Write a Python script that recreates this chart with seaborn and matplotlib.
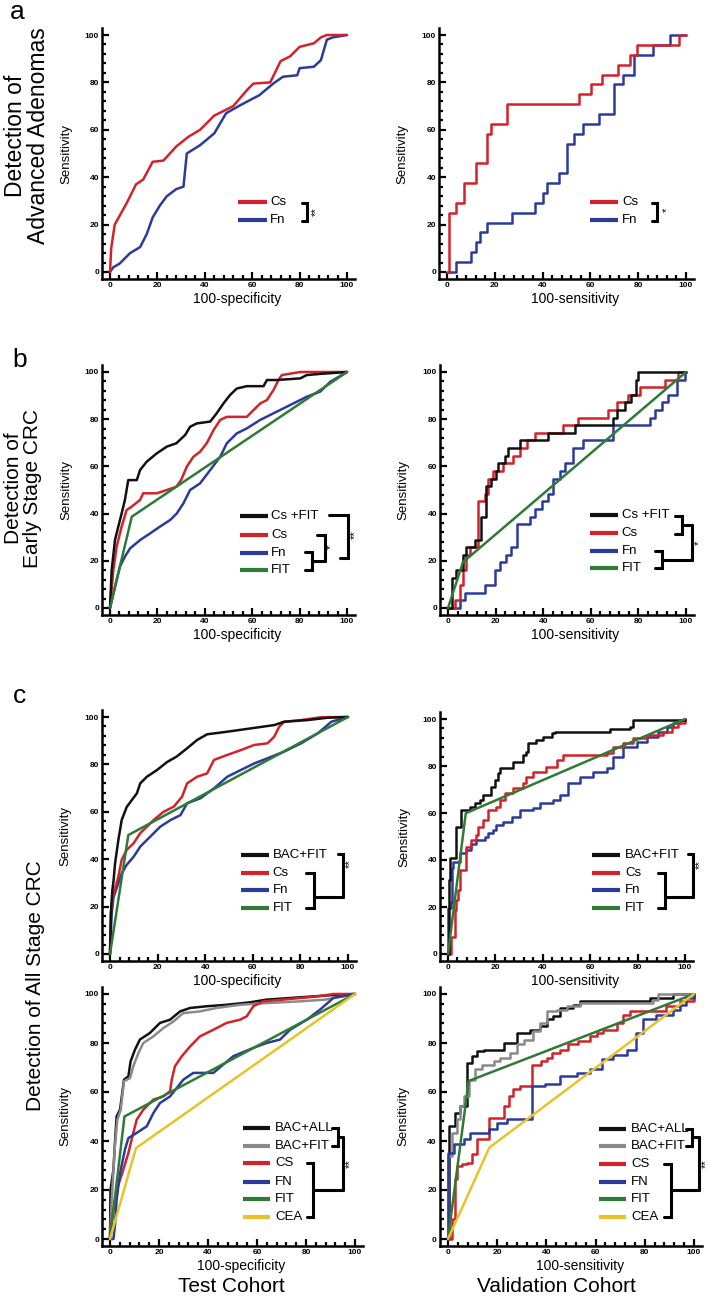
import matplotlib
matplotlib.use("Agg")
import matplotlib.pyplot as plt
import seaborn as sns
from matplotlib.ticker import MultipleLocator

# style
sns.set_theme(style="white")
plt.rcParams['font.family'] = ['Liberation Sans', 'DejaVu Sans']
plt.rcParams['text.color'] = 'black'
plt.rcParams['axes.labelcolor'] = 'black'
plt.rcParams['xtick.color'] = 'black'
plt.rcParams['ytick.color'] = 'black'

RED = '#d2232a'
BLUE = '#2a3b9c'
GREEN = '#2e7a36'
GREY = '#8a8a8a'
YELLOW = '#e9c229'
BLACK = '#111111'

# ---- a: advanced adenomas ----
AL_CS_X = [0, 0.5, 1.4, 2, 7, 11, 14, 18, 22.5, 28, 33, 38, 44, 52, 58, 60.5, 67.6, 72, 76, 80, 86, 89, 91.5, 100]
AL_CS_Y = [0, 10, 16, 20, 29, 37, 39, 46.5, 47, 53, 57, 60, 66, 70, 77, 79.5, 80, 89, 91, 95, 96.5, 99, 100, 100]
AL_FN_X = [0, 1.4, 4, 8.5, 12.7, 15.5, 18, 21, 24, 28, 31, 32.4, 38, 44, 49, 55, 63, 69, 73, 79, 80, 86, 89, 91.5, 94, 100]
AL_FN_Y = [0, 2, 3.5, 8, 10.5, 16, 23, 28, 32, 35, 36, 50, 53.5, 58.5, 67, 70.4, 74.6, 79.6, 82.4, 83, 86, 86.6, 89.4, 98, 99, 100]

AR_CS_X = [0, 0.7, 3.9, 7.1, 12, 16.9, 18.6, 25.3, 55.2, 60.3, 64.8, 71.5, 76.4, 79.7, 96.9, 100]
AR_CS_Y = [0, 25, 29.2, 37.5, 45.8, 58.3, 62.5, 70.8, 75, 79.2, 83.3, 87.5, 91.7, 95.8, 100, 100]
AR_FN_X = [0, 3.9, 10.2, 12, 13.7, 16.9, 27, 36.8, 40, 41.7, 46.9, 50, 53.3, 56.8, 63.6, 69.9, 73.8, 78.3, 86.4, 93.4, 100]
AR_FN_Y = [0, 4.2, 8.3, 12.5, 16.7, 20.8, 25, 29.2, 33.3, 37.5, 41.7, 54.2, 58.3, 62.5, 66.7, 79.2, 83.3, 91.7, 95.8, 100, 100]

# ---- b: early stage CRC ----
BL_CF_X = [0, 0.7, 2.1, 3.5, 4.9, 6.3, 7.7, 11.3, 12.7, 15.5, 19.7, 24, 28, 31.7, 33.8, 36.6, 42.3, 45, 47.9, 50.7,
           53.5, 57.7, 64.8, 66.2, 70.4, 80.3, 83, 88.7, 100]
BL_CF_Y = [0, 16, 28.8, 34.5, 40, 45.8, 54.2, 54.2, 58.5, 62, 65.5, 68.4, 69.8, 73.3, 76.8, 78.2, 79, 82.5, 86.7, 90.3,
           93, 94, 94, 96.6, 96.6, 97.3, 98.7, 99.2, 100]
BL_CS_X = [0, 1.4, 2.8, 4.9, 7, 9.2, 12.7, 14, 19.7, 24, 28, 30, 32.4, 35.2, 38, 40.8, 43.7, 46.5, 49.3, 57.7,
           60.6, 63.4, 66.2, 69, 71.1, 72.5, 80.3, 100]
BL_CS_Y = [0, 16, 26, 34.5, 41.5, 43, 45.8, 48.6, 48.6, 50, 51.4, 54.2, 59.9, 64.1, 66.2, 69.8, 75.4, 79.7, 81, 81,
           83.9, 86.7, 88.1, 92.4, 96.6, 98.7, 100, 100]
BL_FN_X = [0, 2.8, 4.2, 6.3, 8.5, 12.7, 16.9, 21.1, 25.4, 28.2, 31, 33.8, 38, 42.3, 46.5, 49.3, 53.5, 57.7, 63.4, 69,
           76, 83, 88.7, 93, 100]
BL_FN_Y = [0, 11.9, 17.5, 21.8, 25.3, 28.8, 31.6, 34.5, 37.3, 40.1, 44.4, 50, 52.8, 58.5, 64.1, 69.8, 74, 76.1, 79.7, 82.5,
           86, 89.5, 91.7, 95.9, 100]
BL_FIT_X = [0, 9.2, 100]
BL_FIT_Y = [0, 38.7, 100]

BR_CF_X = [0, 1.6, 3.5, 6.3, 7.7, 11.2, 14, 16.1, 18.2, 20.3, 21, 23.8, 25.2, 30.1, 42.1, 53.3, 69.4, 70.8, 74.3, 77.1,
           79.2, 79.9, 100]
BR_CF_Y = [0, 12.9, 16.1, 22.6, 25.8, 29, 38.7, 51.6, 54.8, 58.1, 61.3, 64.5, 67.7, 71, 74.2, 77.4, 80.6, 83.9, 87.1, 90.3,
           96.8, 100, 100]
BR_CS_X = [0, 2.9, 5, 6.3, 7.7, 9.1, 12.6, 15.4, 16.8, 18.9, 23.1, 27.3, 30.2, 33, 36.5, 48.4, 54.7, 67.3, 70.8, 75.7,
           80.6, 91.2, 96.8, 100]
BR_CS_Y = [0, 3.2, 9.7, 16.1, 22.6, 25.8, 45.2, 48.4, 54.8, 58.1, 61.3, 64.5, 67.7, 71, 74.2, 77.4, 80.6, 83.9, 87.1, 90.3,
           93.5, 96.8, 100, 100]
BR_FN_X = [0, 5, 7.2, 15.6, 19.6, 21.7, 24.5, 26.6, 28.8, 34.4, 36.5, 39.3, 42.1, 44.2, 47, 49.1, 52.6, 56.8, 69.4, 84.9,
           87, 89.8, 92.6, 96.1, 99.6, 100]
BR_FN_Y = [0, 3.2, 6.5, 9.7, 16.1, 19.4, 22.6, 25.8, 35.5, 38.7, 41.9, 45.2, 48.4, 54.8, 58.1, 61.3, 67.7, 71, 77.4, 80.6,
           83.9, 87.1, 90.3, 96.8, 100, 100]
BR_FIT_X = [0, 6.3, 100]
BR_FIT_Y = [0, 19.4, 100]

# ---- c: all stage CRC (upper) ----
C1L_BF_X = [0, 0.5, 1, 1.5, 2.1, 3.5, 4.9, 7, 9.2, 11.3, 12.7, 15.5, 19.7, 24, 28, 32.4, 36.6, 40.8, 49.3, 59.2,
            69, 73.2, 83, 91.5, 100]
C1L_BF_Y = [0, 20, 27, 31, 38, 48, 56.5, 62, 65, 67.8, 72, 74.8, 77.6, 81, 83.3, 86.8, 90.3, 92.7, 93.8, 95.2,
            96.6, 98, 98.7, 99.7, 100]
C1L_CS_X = [0, 0.3, 1.4, 3.5, 4.9, 7, 9.9, 12.7, 15.5, 18.3, 22.5, 26.8, 30.3, 32.4, 36.6, 40.8, 43.7, 49.3, 54.9, 60.6,
            66.2, 69, 71.1, 73.2, 80.3, 88.7, 100]
C1L_CS_Y = [0, 17, 25, 32.6, 39.7, 43.9, 46.7, 51, 53.7, 56.5, 60, 62.2, 66.4, 72, 74.8, 76.2, 81.9, 84, 86, 88.2,
            88.9, 91.7, 95.9, 98, 98.7, 99.9, 100]
C1L_FN_X = [0, 0.7, 1.5, 4.9, 7, 9.9, 12.7, 16.9, 21.1, 25.4, 29.6, 32.4, 38, 43.7, 49.3, 54.9, 60.6, 66.2, 73.2, 80.3,
            87.3, 93, 100]
C1L_FN_Y = [0, 17, 24, 34, 37.6, 41, 45.3, 49.5, 53.7, 56.5, 58.6, 63.6, 65.7, 69.9, 74.8, 77.6, 80.4, 82.6, 85.4, 88.9,
            93.1, 98, 100]
C1L_FIT_X = [0, 7.7, 100]
C1L_FIT_Y = [0, 50.2, 100]

C1R_BF_X = [0, 0.3, 1, 3.5, 5.6, 9.2, 11.3, 13.4, 14.8, 18.3, 19.7, 21.1, 21.8, 27.5, 31.7, 33.1, 33.8, 37.3, 40.1, 43.7,
            45, 68.3, 76.8, 78.2, 100]
C1R_BF_Y = [0, 31.5, 40.7, 54.2, 61.3, 62.7, 64.1, 65.5, 67.7, 71.2, 74, 76.9, 79, 81.8, 84.7, 86.1, 89.6, 91, 92.5, 93.9,
            94.6, 95.6, 96.7, 99.6, 100]
C1R_CS_X = [0, 1.4, 2.8, 3.5, 4.2, 4.9, 7.7, 9.9, 12, 12.7, 14.8, 16.9, 20.4, 21.8, 23.9, 27.5, 31.7, 33.1, 35.9, 41.5,
            45.8, 48.6, 66.9, 69.7, 73.9, 78.2, 83.8, 90.8, 94.4, 97.2, 100]
C1R_CS_Y = [0, 7.4, 18.7, 23, 27.2, 35.7, 45.7, 48.5, 50.6, 54.2, 57, 61.3, 62.7, 65.5, 68.4, 70.5, 72.6, 75.5, 77.6, 79.7,
            82.6, 84.7, 85.4, 88.2, 89.6, 91.8, 93.2, 94.6, 96.7, 98.2, 100]
C1R_FN_X = [0, 0.2, 1.4, 1.8, 2.1, 4.9, 7.7, 9.9, 12, 15.5, 16.9, 19, 20.4, 23.2, 26.8, 30.3, 35.9, 38.7, 44.4, 47.2,
            50.7, 55.6, 61.3, 66.9, 69.7, 73.9, 79.6, 83.8, 88.7, 92.3, 95, 97.9, 100]
C1R_FN_Y = [0, 19.4, 22.3, 36.5, 39.3, 42.8, 44.3, 47, 48.5, 49.9, 51.3, 52.8, 54.9, 56.3, 58.4, 61.3, 62, 64.1, 65.5, 67.7,
            72.6, 75.5, 77.6, 79, 84, 88.2, 90.4, 92.5, 94.6, 96.7, 98.2, 99.6, 100]
C1R_FIT_X = [0, 7.5, 100]
C1R_FIT_Y = [0, 59.9, 100]

# ---- c: all stage CRC (lower) ----
C2L_BA_X = [0, 0.2, 1.4, 2, 2.7, 4.1, 5.7, 7.5, 8.4, 10.2, 12.2, 16.3, 20.4, 24.5, 28.6, 32.7, 39.5, 47.6, 57.1, 63.9, 90, 100]
C2L_BA_Y = [0, 20, 28.3, 39, 50, 52.8, 65, 66.4, 72.5, 77.3, 81.4, 84.1, 88.2, 89.5, 92.9, 94.3, 95, 95.6, 96.6, 97.7, 99.5, 100]
C2L_BF_X = [0, 0.7, 2, 3, 4.4, 5.7, 8.2, 9.5, 11.6, 13.6, 17.7, 21.8, 25.9, 29.9, 36.7, 43.5, 53.1, 63.9, 77.6, 87.8, 100]
C2L_BF_Y = [0, 16, 37.8, 48.7, 52.8, 64.4, 65.7, 70.5, 75.9, 80, 82.7, 86.1, 88.8, 92.2, 92.9, 94.3, 95.6, 96.3, 97, 97.7, 100]
C2L_CS_X = [0, 0.1, 1.4, 2.7, 4.8, 7.5, 9.5, 10.9, 13.6, 17.7, 21.8, 24.5, 25.2, 26.5, 29.3, 32.7, 36.7, 42.2, 47.6, 53.1,
            55.8, 58.5, 62.6, 70.7, 84.4, 91.2, 100]
C2L_CS_Y = [0, 2.4, 12, 20, 26.3, 35.1, 43.3, 48.7, 52.8, 56.9, 58.2, 60.3, 65, 70.5, 74.6, 78.6, 82.7, 85.4, 88.2, 89.5,
            90.9, 95, 97, 97.7, 99, 100, 100]
C2L_FN_X = [0, 1.4, 2, 2.7, 4.1, 6.1, 7.5, 10.9, 15, 17.7, 20.4, 24.5, 29.9, 34, 42.2, 50.3, 58.5, 63.9, 69.4, 73.5,
            80.3, 85.7, 91.2, 100]
C2L_FN_Y = [0, 0, 5.2, 16, 26.9, 36.5, 41.2, 43.3, 46, 51.4, 55.5, 58.2, 65, 67.8, 67.8, 74.6, 78, 80, 81.4, 85.4,
            89.5, 93.6, 98.4, 100]
C2L_FIT_X = [0, 5.9, 100]
C2L_FIT_Y = [0, 50, 100]
C2L_CEA_X = [0, 10.6, 100]
C2L_CEA_Y = [0, 37.1, 100]

C2R_BA_X = [0, 0.3, 0.6, 3, 4.7, 7.7, 9.7, 11.8, 14.5, 22.6, 28, 33.4, 37.4, 40.1, 42.8, 45.5, 50.9, 53.6, 82, 91.5, 100]
C2R_BA_Y = [0, 35, 46, 51.6, 54.3, 71.9, 74.6, 76.7, 77.3, 80, 84.1, 85.5, 86.8, 89.6, 90.9, 94.3, 95.7, 97, 98.4, 100, 100]
C2R_BF_X = [0, 0.1, 1.6, 3.6, 5, 6.4, 8.4, 11.1, 13.8, 18.5, 21.2, 25.3, 28, 30.7, 34.7, 37.4, 40.1, 44.2, 48.2, 53.6,
            83.4, 85.4, 100]
C2R_BF_Y = [0, 34, 43.4, 48.8, 54.3, 58.3, 65.1, 69.2, 71.2, 72.6, 73.9, 76, 79.4, 81.4, 84.8, 88.2, 92.9, 93.6, 95, 96.3,
            97.7, 100, 100]
C2R_CS_X = [0, 1.6, 3, 3.6, 5.7, 7.7, 9.7, 11.8, 16.5, 22.6, 24.6, 26.6, 29.3, 34, 37.8, 40.1, 42.2, 45.5, 48.9, 53,
            57.7, 60.4, 63.1, 68.5, 71.2, 73.9, 88.8, 94.2, 100]
C2R_CS_Y = [0, 8.1, 24.4, 29.9, 30.5, 31.2, 34.6, 40.7, 49.5, 54.3, 58.3, 61.1, 62.4, 71.2, 72.6, 73.9, 76, 77.3, 79.4, 80.7,
            82.8, 84.1, 85.5, 88.2, 91.6, 92.9, 95, 97, 100]
C2R_FN_X = [0, 0.1, 2.3, 6.4, 9, 16.5, 19.9, 23.9, 34, 39.5, 45.5, 52.3, 57.7, 62.4, 67.2, 72.6, 76.6, 79.3, 84.7, 91.5,
            94.2, 96.9, 100]
C2R_FN_Y = [0, 35.3, 38.7, 40.7, 43.4, 44.8, 47.5, 48.8, 62.4, 63.1, 66.5, 67.8, 69.2, 73.3, 75.3, 77.3, 84.1, 89.6, 91.6, 93.6,
            95.7, 98.4, 100]
C2R_FIT_X = [0, 8.4, 100]
C2R_FIT_Y = [0, 64.5, 100]
C2R_CEA_X = [0, 16.8, 100]
C2R_CEA_Y = [0, 37.3, 100]

# figure
W, H = 711, 1300
fig = plt.figure(figsize=(W / 100, H / 100), dpi=100)
XLO, XHI, YLO, YHI = -3.4, 103.3, -3, 103


def make_ax(x0, x100, y100, y0, xlabel):
    sx = (x100 - x0) / 100
    sy = (y0 - y100) / 100
    left, right = x0 + XLO * sx, x0 + XHI * sx
    bottom, top = y0 - YLO * sy, y0 - YHI * sy
    ax = fig.add_axes([left / W, 1 - bottom / H, (right - left) / W, (bottom - top) / H])
    ax.set_xlim(XLO, XHI)
    ax.set_ylim(YLO, YHI)
    ax.set_facecolor('none')
    for s in ['top', 'right']:
        ax.spines[s].set_visible(False)
    for s in ['left', 'bottom']:
        ax.spines[s].set_linewidth(1.8)
        ax.spines[s].set_color('black')
    ax.xaxis.set_major_locator(MultipleLocator(20))
    ax.yaxis.set_major_locator(MultipleLocator(20))
    ax.xaxis.set_minor_locator(MultipleLocator(4))
    ax.yaxis.set_minor_locator(MultipleLocator(4))
    ax.tick_params(which='major', direction='in', length=5, width=1.6, labelsize=6, pad=2,
                   bottom=True, left=True)
    ax.tick_params(which='minor', direction='in', length=3, width=1.6, bottom=True, left=True)
    for lbl in ax.get_xticklabels() + ax.get_yticklabels():
        lbl.set_fontweight('bold')
    ax.set_ylabel('Sensitivity', fontsize=9.5)
    ax.yaxis.set_label_coords(-30 / (right - left), 0.5)
    ax.set_xlabel(xlabel, fontsize=10)
    ax.xaxis.set_label_coords((53.5 - XLO) / (XHI - XLO), -13 / (bottom - top))
    ax.grid(False)
    return ax


def curve(ax, x, y, color, steps=False):
    sns.lineplot(x=x, y=y, ax=ax, color=color, lw=1.8, estimator=None, sort=False,
                 drawstyle='steps-post' if steps else 'default', legend=False)


def legend(ax, x0, x1, xt, rows):
    for label, color, y in rows:
        ax.plot([x0, x1], [y, y], color=color, lw=3, solid_capstyle='butt', clip_on=False)
        ax.text(xt, y, label, fontsize=9.5, va='center', ha='left', clip_on=False)


def bracket(ax, x, y1, y2, s1, s2):
    ax.plot([x - s1, x, x, x - s2], [y1, y1, y2, y2], color='black', lw=2.2, clip_on=False,
            solid_joinstyle='miter')


def link(ax, xa, xb, y):
    ax.plot([xa, xb], [y, y], color='black', lw=2.2, clip_on=False)


def stars(ax, x, y, s):
    ax.text(x, y, s, fontsize=8, rotation=90, ha='center', va='center', clip_on=False)


SPEC, SENS = '100-specificity', '100-sensitivity'

# a
ax = make_ax(110, 347, 35, 272, SPEC)
curve(ax, AL_FN_X, AL_FN_Y, BLUE)
curve(ax, AL_CS_X, AL_CS_Y, RED)
legend(ax, 54, 66.2, 67.5, [('Cs', RED, 29.5), ('Fn', BLUE, 22)])
bracket(ax, 83, 29.2, 21.6, 2, 2)
stars(ax, 87, 25.4, '**')

ax = make_ax(447, 686, 35, 272, SENS)
curve(ax, AR_FN_X, AR_FN_Y, BLUE, steps=True)
curve(ax, AR_CS_X, AR_CS_Y, RED, steps=True)
legend(ax, 59.8, 71.5, 73.2, [('Cs', RED, 29.5), ('Fn', BLUE, 22)])
bracket(ax, 87.7, 29.2, 21.6, 2, 2)
stars(ax, 91.9, 26.2, '*')

# b
ax = make_ax(110, 347, 372, 608, SPEC)
curve(ax, BL_FN_X, BL_FN_Y, BLUE)
curve(ax, BL_CS_X, BL_CS_Y, RED)
curve(ax, BL_CF_X, BL_CF_Y, BLACK)
curve(ax, BL_FIT_X, BL_FIT_Y, GREEN)
legend(ax, 54.9, 66.7, 68, [('Cs +FIT', BLACK, 39), ('Cs', RED, 30.9), ('Fn', BLUE, 23.2), ('FIT', GREEN, 16.1)])
bracket(ax, 85.1, 23.9, 16.1, 2.8, 2.8)
link(ax, 85.1, 90.7, 20)
bracket(ax, 90.7, 30.9, 20, 3.5, 0)
stars(ax, 93, 26, '*')
bracket(ax, 100.6, 39.4, 21, 8.2, 3.6)
stars(ax, 103.2, 31, '**')

ax = make_ax(448, 686, 372, 608, SENS)
curve(ax, BR_FN_X, BR_FN_Y, BLUE, steps=True)
curve(ax, BR_CS_X, BR_CS_Y, RED, steps=True)
curve(ax, BR_CF_X, BR_CF_Y, BLACK, steps=True)
curve(ax, BR_FIT_X, BR_FIT_Y, GREEN)
legend(ax, 59.7, 71.6, 73, [('Cs +FIT', BLACK, 39.4), ('Cs', RED, 31.7), ('Fn', BLUE, 24.3), ('FIT', GREEN, 16.8)])
bracket(ax, 98.2, 39, 31.3, 2.8, 2.8)
bracket(ax, 89.8, 24, 16.8, 2.8, 2.8)
link(ax, 98.2, 102.4, 35.2)
link(ax, 89.8, 102.4, 20.4)
bracket(ax, 102.4, 35.2, 20.4, 0, 0)
stars(ax, 105.6, 27.5, '*')

# c upper
ax = make_ax(110, 348, 717, 954, SPEC)
curve(ax, C1L_FN_X, C1L_FN_Y, BLUE)
curve(ax, C1L_CS_X, C1L_CS_Y, RED)
curve(ax, C1L_BF_X, C1L_BF_Y, BLACK)
curve(ax, C1L_FIT_X, C1L_FIT_Y, GREEN)
legend(ax, 54.9, 66.7, 68.4, [('BAC+FIT', BLACK, 41.8), ('Cs', RED, 34), ('Fn', BLUE, 27), ('FIT', GREEN, 19.4)])
bracket(ax, 85.7, 34, 19.4, 3.4, 3.4)
link(ax, 85.7, 97.9, 24)
bracket(ax, 97.9, 42.2, 24, 2.1, 0)
stars(ax, 100.8, 38, '**')

ax = make_ax(448, 685, 719, 954, SENS)
curve(ax, C1R_FN_X, C1R_FN_Y, BLUE, steps=True)
curve(ax, C1R_CS_X, C1R_CS_Y, RED, steps=True)
curve(ax, C1R_BF_X, C1R_BF_Y, BLACK, steps=True)
curve(ax, C1R_FIT_X, C1R_FIT_Y, GREEN)
legend(ax, 60.6, 72.6, 74.7, [('BAC+FIT', BLACK, 42.1), ('Cs', RED, 34.3), ('Fn', BLUE, 27.2), ('FIT', GREEN, 19.4)])
bracket(ax, 91.6, 34.3, 19.4, 2.9, 2.9)
link(ax, 91.6, 103.5, 24.4)
bracket(ax, 103.5, 42.5, 24.4, 2.2, 0)
stars(ax, 106.3, 38, '**')

# c lower
rows6 = ['BAC+ALL', 'BAC+FIT', 'CS', 'FN', 'FIT', 'CEA']
cols6 = [BLACK, GREY, RED, BLUE, GREEN, YELLOW]

ax = make_ax(110, 355, 994, 1239, SPEC)
curve(ax, C2L_BA_X, C2L_BA_Y, BLACK)
curve(ax, C2L_BF_X, C2L_BF_Y, GREY)
curve(ax, C2L_CS_X, C2L_CS_Y, RED)
curve(ax, C2L_FN_X, C2L_FN_Y, BLUE)
curve(ax, C2L_FIT_X, C2L_FIT_Y, GREEN)
curve(ax, C2L_CEA_X, C2L_CEA_Y, YELLOW)
legend(ax, 54.4, 65.3, 67.3, list(zip(rows6, cols6, [45.2, 38.1, 30.9, 23.4, 16.3, 9.1])))
bracket(ax, 93.2, 45.2, 38.1, 2.7, 2.7)
bracket(ax, 83, 30.9, 9.1, 2.7, 2.7)
link(ax, 93.2, 95.2, 41.7)
link(ax, 83, 95.2, 20)
bracket(ax, 95.2, 41.7, 20, 0, 0)
stars(ax, 98, 30.9, '**')

ax = make_ax(448, 694, 994, 1239, SENS)
curve(ax, C2R_BA_X, C2R_BA_Y, BLACK, steps=True)
curve(ax, C2R_BF_X, C2R_BF_Y, GREY, steps=True)
curve(ax, C2R_CS_X, C2R_CS_Y, RED, steps=True)
curve(ax, C2R_FN_X, C2R_FN_Y, BLUE, steps=True)
curve(ax, C2R_FIT_X, C2R_FIT_Y, GREEN)
curve(ax, C2R_CEA_X, C2R_CEA_Y, YELLOW)
legend(ax, 61.3, 72.3, 74.4, list(zip(rows6, cols6, [45, 37.9, 30.8, 23.3, 16.3, 9.1])))
bracket(ax, 99.3, 45, 37.9, 2.7, 2.7)
bracket(ax, 90.6, 30.8, 9.1, 2.7, 2.7)
link(ax, 99.3, 102, 41.5)
link(ax, 90.6, 102, 20)
bracket(ax, 102, 41.5, 20, 0, 0)
stars(ax, 104.7, 30.8, '**')

# panel letters, row and column titles
for letter, px, py in [('a', 17, 12), ('b', 20, 360), ('c', 20, 696)]:
    fig.text(px / W, 1 - py / H, letter, fontsize=19, ha='center', va='center')

fig.text(27 / W, 1 - 136 / H, 'Detection of\nAdvanced Adenomas', rotation=90, fontsize=16.5,
         ha='center', va='center', linespacing=0.95)
fig.text(23 / W, 1 - 488 / H, 'Detection of\nEarly Stage CRC', rotation=90, fontsize=15,
         ha='center', va='center', linespacing=1.05)
fig.text(36 / W, 1 - 986 / H, 'Detection of All Stage CRC', rotation=90, fontsize=15,
         ha='center', va='center')
fig.text(231 / W, 1 - 1287 / H, 'Test Cohort', fontsize=15, ha='center', va='center')
fig.text(556 / W, 1 - 1287 / H, 'Validation Cohort', fontsize=15, ha='center', va='center')

fig.savefig('out.png', dpi=100, facecolor='white')
